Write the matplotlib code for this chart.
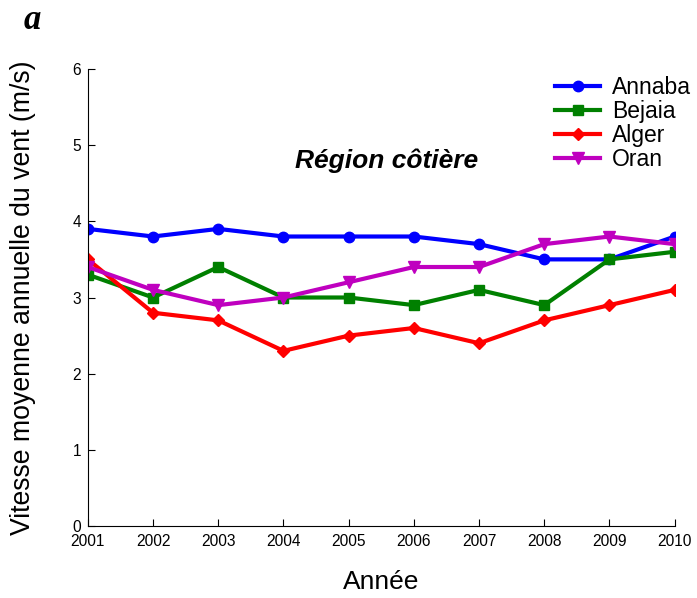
import matplotlib
matplotlib.use("Agg")
import matplotlib.pyplot as plt

plt.rcParams['font.family'] = ['Liberation Sans', 'DejaVu Sans']

years = [2001, 2002, 2003, 2004, 2005, 2006, 2007, 2008, 2009, 2010]
annaba = [3.9, 3.8, 3.9, 3.8, 3.8, 3.8, 3.7, 3.5, 3.5, 3.8]
bejaia = [3.3, 3.0, 3.4, 3.0, 3.0, 2.9, 3.1, 2.9, 3.5, 3.6]
alger = [3.5, 2.8, 2.7, 2.3, 2.5, 2.6, 2.4, 2.7, 2.9, 3.1]
oran = [3.4, 3.1, 2.9, 3.0, 3.2, 3.4, 3.4, 3.7, 3.8, 3.7]
series_names = ["Annaba", "Bejaia", "Alger", "Oran"]

fig = plt.figure(figsize=(6.97, 5.98), dpi=100)
ax = fig.add_axes([0.126, 0.120, 0.842, 0.765])

lw = 3.0
ax.plot(years, annaba, color='#0000ff', marker='o', markersize=7.5, lw=lw, label=series_names[0])
ax.plot(years, bejaia, color='#008000', marker='s', markersize=7.5, lw=lw, label=series_names[1])
ax.plot(years, alger, color='#ff0000', marker='D', markersize=6.5, lw=lw, label=series_names[2])
ax.plot(years, oran, color='#bf00bf', marker='v', markersize=8.5, lw=lw, label=series_names[3])

ax.set_xlim(2001, 2010)
ax.set_ylim(0, 6)
ax.set_xticks(years)
ax.set_yticks(range(0, 7))
ax.tick_params(direction='in', labelsize=11.2, length=5, width=0.8)
ax.tick_params(axis='x', pad=5.5)
ax.tick_params(axis='y', pad=5)
ax.spines['top'].set_visible(False)
ax.spines['right'].set_visible(False)

ax.set_xlabel("Année", fontsize=19)
ax.xaxis.set_label_coords(0.5, -0.095)
ax.set_ylabel("Vitesse moyenne annuelle du vent (m/s)", fontsize=19.2)
ax.yaxis.set_label_coords(-0.088, 0.5)

ax.text(0.509, 0.799, "Région côtière", transform=ax.transAxes, fontsize=19,
        fontweight='bold', fontstyle='italic', ha='center', va='center')

fig.text(0.047, 0.965, "a", fontsize=25, fontweight='bold', fontstyle='italic',
         family='Liberation Serif', ha='center', va='center')

ax.legend(loc='upper right', bbox_to_anchor=(1.055, 1.02), frameon=False, fontsize=16.5,
          handlelength=2.0, handletextpad=0.5, labelspacing=0.05, borderpad=0.2)

fig.savefig("out.png", dpi=100)
